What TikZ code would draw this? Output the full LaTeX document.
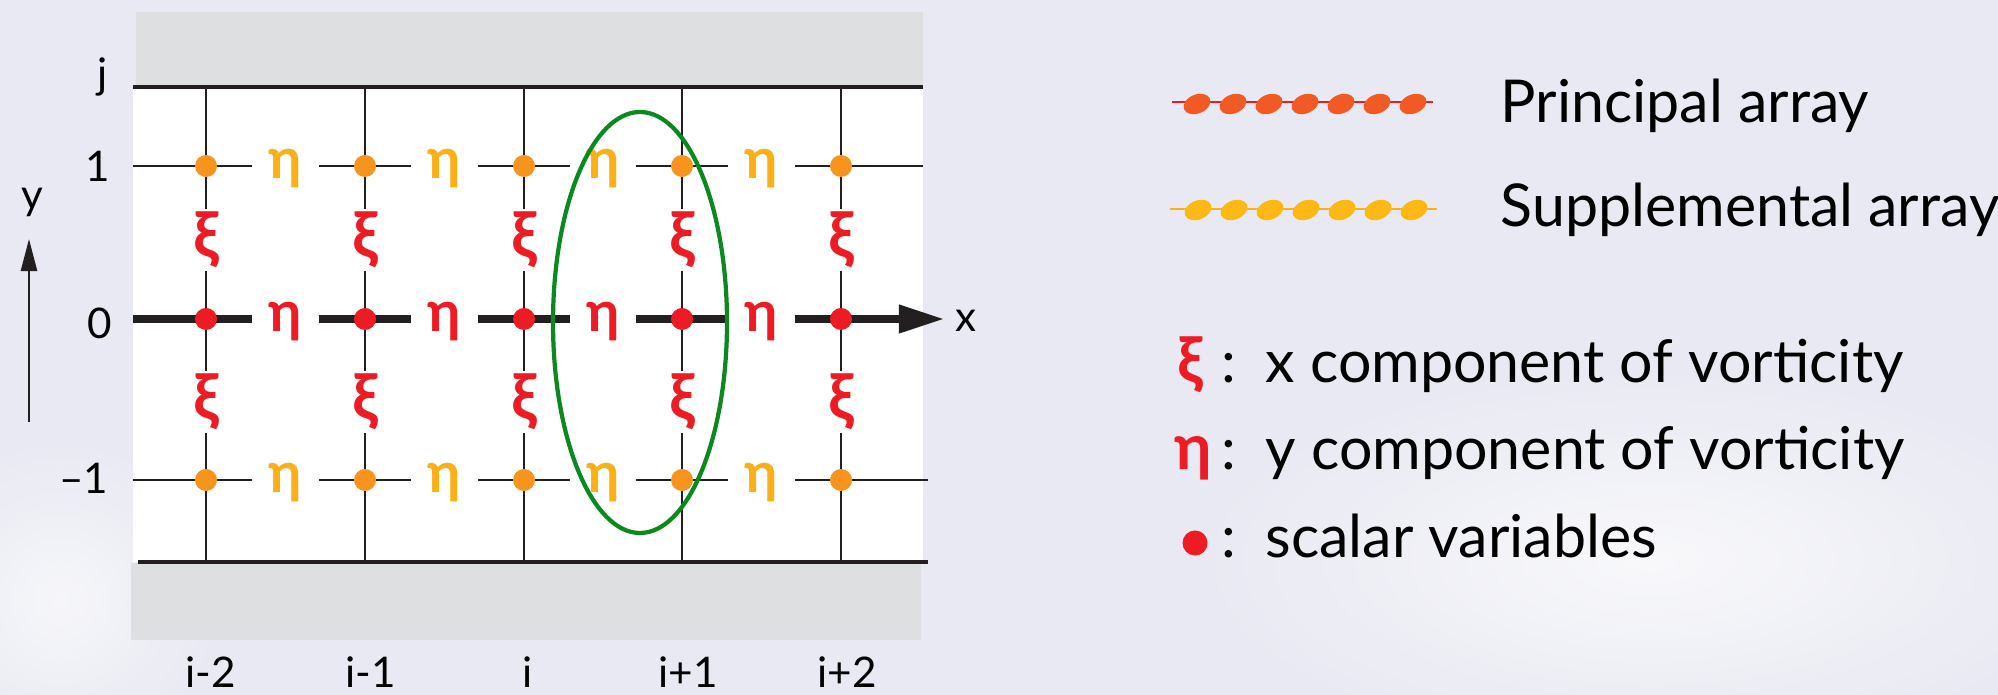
\documentclass[tikz,border=0pt]{standalone}
\usepackage{fontspec}
\setmainfont{Lato}
\usepackage{xcolor}
\definecolor{cSky}{HTML}{E8E9F2}
\definecolor{cWall}{HTML}{DEDFE1}
\definecolor{cInk}{HTML}{231F20}
\definecolor{cPrin}{HTML}{ED1C24}
\definecolor{cPrinDot}{HTML}{F15A24}
\definecolor{cSupp}{HTML}{F7941D}
\definecolor{cSuppEta}{HTML}{FBB017}
\definecolor{cSuppLeg}{HTML}{FDB913}
\definecolor{cLoop}{HTML}{0A8A1E}
\usepackage{tikz}
\usetikzlibrary{arrows.meta,calc}

\begin{document}
\begin{tikzpicture}[x=0.01cm,y=-0.01cm,
  font=\fontsize{12}{14}\selectfont,
  gridln/.style={line width=0.65pt,cInk},
  wallln/.style={line width=1pt,cInk},
  axisln/.style={line width=2pt,cInk},
  pdot/.style={circle,fill=cPrin,inner sep=0pt,minimum size=0.22cm},
  sdot/.style={pdot,fill=cSupp},
  gap/.style={fill=white,inner sep=0pt,font=\fontsize{16}{16}\selectfont\bfseries},
  etab/.style={gap,minimum width=0.66cm,minimum height=0.42cm},
  xib/.style={gap,font=\fontsize{18}{18}\selectfont\bfseries,minimum width=0.3cm,minimum height=0.62cm,text=cPrin},
  lab/.style={inner sep=0pt},
  legtxt/.style={font=\fontsize{16.8}{19}\selectfont,inner sep=0pt,anchor=base west},
  legsym/.style={font=\fontsize{18}{18}\selectfont\bfseries,text=cPrin,inner sep=0pt,anchor=base west}]
\useasboundingbox (0,0) rectangle (1998,695);
\fill[cSky] (0,0) rectangle (1998,695);
\shade[inner color=white!70!cSky,outer color=cSky] (1650,560) ellipse [x radius=450,y radius=190];
\shade[inner color=white!60!cSky,outer color=cSky] (60,600) ellipse [x radius=160,y radius=160];
% channel: walls and interior
\fill[cWall] (136,12) rectangle (923,86);
\fill[cWall] (131,563) rectangle (921,640);
\fill[white] (133,87) rectangle (923,562);
\coordinate (wallTL) at (133,87);
\coordinate (wallTR) at (923,87);
\coordinate (wallBL) at (138,562);
\coordinate (wallBR) at (928,562);
\coordinate (rowL1) at (133,166);
\coordinate (rowR1) at (923,166);
\coordinate (rowL0) at (133,319);
\coordinate (xTip) at (944,319);
\coordinate (rowLm) at (133,480);
\coordinate (rowRm) at (928,480);
\foreach \c/\x in {1/206,2/365,3/524,4/682,5/841}{
  \coordinate (top\c) at (\x,87);
  \coordinate (bot\c) at (\x,562);
  \draw[gridln] (top\c) -- (bot\c);
}
\draw[gridln] (rowL1) -- (rowR1);
\draw[gridln] (rowLm) -- (rowRm);
\draw[wallln] (wallTL) -- (wallTR);
\draw[wallln] (wallBL) -- (wallBR);
\draw[axisln,-{Triangle[length=0.45cm,width=0.27cm]}] (rowL0) -- (xTip);
% staggered variables
\foreach \c/\x in {1/285.5,2/444.5,3/603,4/761.5}{
  \node[etab,text=cSuppEta] (eT\c) at (\x,169) {η};
  \node[etab,text=cPrin] (e\c) at (\x,322) {η};
  \node[etab,text=cSuppEta] (eB\c) at (\x,483) {η};
}
\foreach \c/\x in {1/206,2/365,3/524,4/682,5/841}{
  \node[xib] (xU\c) at (\x,240) {ξ};
  \node[xib] (xL\c) at (\x,402) {ξ};
  \node[sdot] (sT\c) at (\x,166) {};
  \node[pdot] (p\c) at (\x,319) {};
  \node[sdot] (sB\c) at (\x,480) {};
}
\draw[cLoop,line width=1.2pt] (640,322.5) ellipse [x radius=87,y radius=210.5];
% axis labels
\node[lab,anchor=base east] (jLab) at (108,89) {j};
\node[lab,anchor=east] (oneLab) at (111,166) {1};
\node[lab,anchor=east] (zeroLab) at (113,323) {0};
\node[lab,anchor=east] (mLab) at (109,478) {–1};
\node[lab] (xLab) at (966,321) {x};
\node[lab] (yLab) at (32,202) {y};
\coordinate (yFoot) at (29,422);
\coordinate (yHead) at (29,239);
\draw[line width=0.75pt,cInk,-{Triangle[length=0.32cm,width=0.16cm]}] (yFoot) -- (yHead);
\foreach \c/\x/\t in {1/211/i-2,2/371/i-1,3/528/i,4/688/i+1,5/847/i+2}
  \node[lab,anchor=base] (iLab\c) at (\x,688) {\t};
% legend
\draw[cPrin,line width=0.75pt] (1172,102) -- (1433,102);
\foreach \k in {0,...,6}
  \fill[cPrinDot,rotate around={22:(1197+36*\k,104)}] (1197+36*\k,104) ellipse [x radius=14,y radius=9.5];
\draw[cSuppEta,line width=0.75pt] (1170,209) -- (1437,209);
\foreach \k in {0,...,6}
  \fill[cSuppLeg,rotate around={22:(1198+36*\k,210)}] (1198+36*\k,210) ellipse [x radius=14,y radius=9.5];
\node[legtxt] (prinTxt) at (1500,123) {Principal array};
\node[legtxt] (suppTxt) at (1500,227) {Supplemental array};
\node[legsym] (xiSym) at (1177,383) {ξ};
\node[legsym] (etaSym) at (1174,470) {η};
\node[pdot,minimum size=0.25cm] (dotSym) at (1195,543) {};
\foreach \r/\y in {xi/383,eta/470,dot/558}
  \node[legtxt,anchor=base] (col\r) at (1229,\y) {:};
\node[legtxt] (xiTxt) at (1265,383) {x component of vorticity};
\node[legtxt] (etaTxt) at (1265,470) {y component of vorticity};
\node[legtxt] (dotTxt) at (1265,558) {scalar variables};
\end{tikzpicture}
\end{document}
